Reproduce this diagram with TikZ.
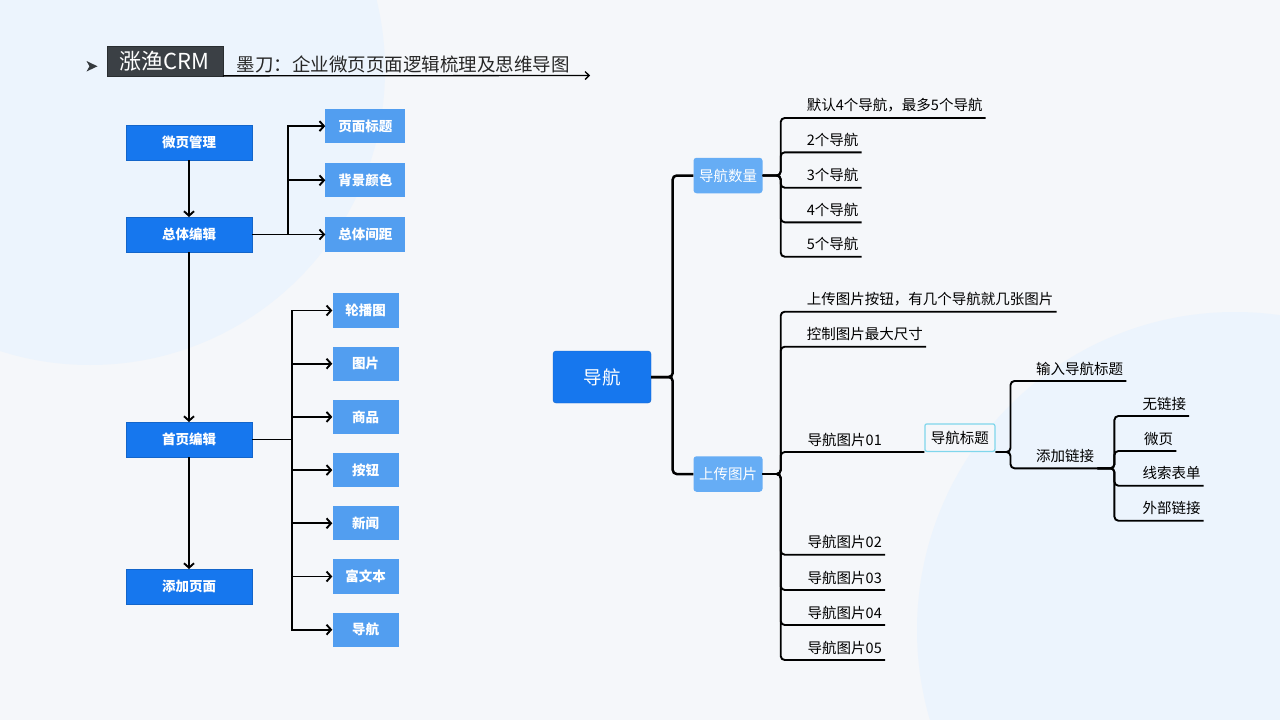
\documentclass[tikz,border=0pt]{standalone}
\usepackage{fontspec}
\setmainfont{Noto Sans CJK SC}
\usetikzlibrary{arrows.meta,positioning}
\definecolor{pagebg}{HTML}{F5F7FA}
\definecolor{blob}{HTML}{ECF4FD}
\definecolor{deepblue}{HTML}{1677EE}
\definecolor{paleblue}{HTML}{529EF0}
\definecolor{topicblue}{HTML}{66ADF5}
\definecolor{titlegray}{HTML}{3B4045}
\definecolor{tagcyan}{HTML}{7FD6EC}
\tikzset{
    mainbox/.style={rectangle,fill=deepblue,draw=deepblue!85!black,line width=0.5pt,minimum width=126pt,minimum height=34.5pt,text=white,font=\bfseries\fontsize{13.5}{16}\selectfont},
    subbox/.style={rectangle,fill=paleblue,minimum height=34.3pt,text=white,font=\bfseries\fontsize{13.5}{16}\selectfont},
    flow/.style={-{Straight Barb[length=4.5pt,width=10pt]},line width=1.9pt},
    topic/.style={rectangle,rounded corners=3pt,fill=topicblue,minimum width=69pt,minimum height=35.5pt,text=white,font=\fontsize{14.5}{17}\selectfont},
    leaf/.style={anchor=south west,inner xsep=3pt,inner ysep=5.5pt,font=\fontsize{14.5}{17}\selectfont},
    branch/.style={line width=1.9pt,rounded corners=4pt}
}

\begin{document}
\begin{tikzpicture}[x=1pt,y=-1pt]
    \useasboundingbox (0,0) rectangle (1280,720);
    \fill[pagebg] (0,0) rectangle (1280,720);
    \begin{scope}
        \clip (0,0) rectangle (1280,720);
        \fill[blob] (90,70) circle (295);
        \fill[blob] (1235,630) circle (318);
    \end{scope}

    % title
    \fill[titlegray!90!black] (86.5,61) -- (97.5,66.3) -- (86.5,71.5) -- (89.5,66.3) -- cycle;
    \node[fill=titlegray,draw=titlegray!70!black,minimum width=116pt,minimum height=30pt,inner sep=0pt,text=white,font=\fontsize{22}{24}\selectfont] (crm) at (164.7,60.7) {涨渔CRM};
    \node[anchor=west,inner sep=0pt,text=black!85,font=\fontsize{18.5}{20}\selectfont] (subject) at (236.5,64) {墨刀：企业微页页面逻辑梳理及思维导图};
    \coordinate (lineend) at (590,75.5);
    \draw[-{Straight Barb[length=4pt,width=8pt]},line width=1.3pt] (crm.south east) -- (lineend);

    % left flow
    \node[mainbox] (wygl) at (189,142.5) {微页管理};
    \node[mainbox] (ztbj) [below=57pt of wygl]  {总体编辑};
    \node[mainbox] (sybj) [below=170pt of ztbj] {首页编辑};
    \node[mainbox] (tjym) [below=112pt of sybj] {添加页面};

    \node[subbox,minimum width=80pt] (zjj)  [right=73pt of ztbj]  {总体间距};
    \node[subbox,minimum width=80pt] (bjys) [above=19.5pt of zjj] {背景颜色};
    \node[subbox,minimum width=80pt] (ymbt) [above=19.5pt of bjys] {页面标题};

    \node[subbox,minimum width=66pt] (lbt) at (365.5,310.5)     {轮播图};
    \node[subbox,minimum width=66pt] (tp)  [below=18.5pt of lbt] {图片};
    \node[subbox,minimum width=66pt] (sp)  [below=18.5pt of tp]  {商品};
    \node[subbox,minimum width=66pt] (an)  [below=18.5pt of sp]  {按钮};
    \node[subbox,minimum width=66pt] (xw)  [below=18.5pt of an]  {新闻};
    \node[subbox,minimum width=66pt] (fwb) [below=18.5pt of xw]  {富文本};
    \node[subbox,minimum width=66pt] (dhb) [below=18.5pt of fwb] {导航};

    \draw[flow] (wygl) -- (ztbj);
    \draw[flow] (ztbj) -- (sybj);
    \draw[flow] (sybj) -- (tjym);
    \draw[flow] (ztbj.east) -- (zjj.west);
    \draw[flow] (ztbj.east) -- ++(36,0) |- (bjys.west);
    \draw[flow] (ztbj.east) -- ++(36,0) |- (ymbt.west);
    \draw[flow] (sybj.east) -- ++(40,0) |- (lbt.west);
    \draw[flow] (sybj.east) -- ++(40,0) |- (tp.west);
    \draw[flow] (sybj.east) -- ++(40,0) |- (sp.west);
    \draw[flow] (sybj.east) -- ++(40,0) |- (an.west);
    \draw[flow] (sybj.east) -- ++(40,0) |- (xw.west);
    \draw[flow] (sybj.east) -- ++(40,0) |- (fwb.west);
    \draw[flow] (sybj.east) -- ++(40,0) |- (dhb.west);

    % mind map
    \node[rectangle,rounded corners=3pt,fill=deepblue,draw=deepblue!85!black,minimum width=98pt,minimum height=52pt,text=white,font=\fontsize{18.5}{20}\selectfont] (dh) at (602,377) {导航};
    \node[topic] (slq)  at (728,175.5) {导航数量};
    \node[topic] (sctp) at (728,474)   {上传图片};
    \draw[branch,line width=2.5pt] (dh.east) -- ++(21.5,0) |- (slq.west);
    \draw[branch,line width=2.5pt] (dh.east) -- ++(21.5,0) |- (sctp.west);

    \node[leaf] (mr) at (803.7,118)   {默认4个导航，最多5个导航};
    \node[leaf] (n2) at (803.7,152.3) {2个导航};
    \node[leaf] (n3) at (803.7,187.7) {3个导航};
    \node[leaf] (n4) at (803.7,222.3) {4个导航};
    \node[leaf] (n5) at (803.7,256.7) {5个导航};
    \draw[branch] (slq.east) -- ++(18,0) |- (mr.south east);
    \draw[branch] (slq.east) -- ++(18,0) |- (n2.south east);
    \draw[branch] (slq.east) -- ++(18,0) |- (n3.south east);
    \draw[branch] (slq.east) -- ++(18,0) |- (n4.south east);
    \draw[branch] (slq.east) -- ++(18,0) |- (n5.south east);

    \node[leaf] (scan) at (803.7,311.7) {上传图片按钮，有几个导航就几张图片};
    \node[leaf] (kzcc) at (803.7,346.7) {控制图片最大尺寸};
    \node[leaf] (t1)   at (804.5,452)   {导航图片01};
    \node[leaf] (t2)   at (804.5,554.7) {导航图片02};
    \node[leaf] (t3)   at (804.5,590)   {导航图片03};
    \node[leaf] (t4)   at (804.5,625)   {导航图片04};
    \node[leaf] (t5)   at (804.5,660)   {导航图片05};
    \node[draw=tagcyan,line width=1.2pt,rounded corners=2pt,fill=pagebg,minimum width=70pt,minimum height=27.5pt,anchor=south west,font=\fontsize{14.5}{17}\selectfont] (bt) at (924.3,452) {导航标题};
    \draw[branch] (sctp.east) -- ++(18,0) |- (scan.south east);
    \draw[branch] (sctp.east) -- ++(18,0) |- (kzcc.south east);
    \draw[branch] (sctp.east) -- ++(18,0) |- (t1.south west) -- (bt.south west);
    \draw[branch] (sctp.east) -- ++(18,0) |- (t2.south east);
    \draw[branch] (sctp.east) -- ++(18,0) |- (t3.south east);
    \draw[branch] (sctp.east) -- ++(18,0) |- (t4.south east);
    \draw[branch] (sctp.east) -- ++(18,0) |- (t5.south east);

    \node[leaf] (srbt) at (1033,381)   {输入导航标题};
    \node[leaf] (tjlj) at (1033,468.3) {添加链接};
    \draw[branch] (bt.south east) -- ++(15,0) |- (srbt.south east);
    \draw[branch] (bt.south east) -- ++(15,0) |- (tjlj.south east);

    \node[leaf] (wlj)  at (1139.3,416)   {无链接};
    \node[leaf] (wy)   at (1141,451)     {微页};
    \node[leaf] (xsbd) at (1139.3,485.7) {线索表单};
    \node[leaf] (wblj) at (1139.3,520.7) {外部链接};
    \draw[branch] (tjlj.south east) -- ++(17,0) |- (wlj.south east);
    \draw[branch] (tjlj.south east) -- ++(17,0) |- (wy.south east);
    \draw[branch] (tjlj.south east) -- ++(17,0) |- (xsbd.south east);
    \draw[branch] (tjlj.south east) -- ++(17,0) |- (wblj.south east);
\end{tikzpicture}
\end{document}
